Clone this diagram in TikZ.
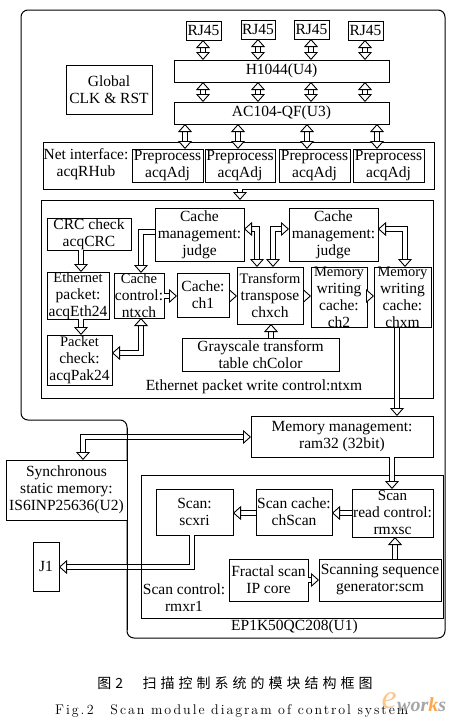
\documentclass[tikz,border=0pt]{standalone}
\usepackage{fontspec}
\newfontfamily\tms{Liberation Serif}
\newfontfamily\cjk{Noto Sans CJK SC}
\newfontfamily\capf[LetterSpace=14]{Latin Modern Roman}
\usetikzlibrary{arrows.meta,calc,positioning}
\newcommand{\bx}[6]{%
  \pgfmathsetmacro{\bw}{#4-#2}\pgfmathsetmacro{\bh}{#5-#3}%
  \node[bxs,minimum width=\bw pt,minimum height=\bh pt] (#1) at (#2,#3) {#6};}
\newcommand{\gp}{\hspace{4pt}}
\tikzset{
  bxs/.style={draw=black,line width=1pt,anchor=north west,inner sep=0pt,outer sep=0pt,align=center,
    font=\tms\fontsize{15.5}{17}\selectfont,fill=white},
  lbl/.style={inner sep=0pt,align=center,font=\tms\fontsize{15.5}{17}\selectfont},
  dbl/.style={draw=black,line width=.9pt,double=white,double distance=3.6pt,line join=miter},
  hd/.tip={Triangle[length=8pt,width=14pt,fill=white,line width=.9pt]},
  to1/.style={dbl,-hd},
  to2/.style={dbl,hd-hd},
}
\begin{document}
\begin{tikzpicture}[x=1pt,y=-1pt]
\useasboundingbox (0,0) rectangle (461,728);
% board outline
\draw[line width=1pt,rounded corners=7pt] (21,10) -- (445,10) -- (445,638) -- (127,638) -- (127,420) -- (21,420) -- cycle;
% containers
\bx{net}{43}{142}{434}{189}{}
\bx{wr}{41}{200}{433}{398}{}
\bx{u1}{141}{475}{443}{618}{}
% top
\bx{glob}{66}{65}{152}{114}{Global\\CLK \& RST}
\bx{rja}{186}{21}{221}{40}{RJ45}
\bx{rjb}{241}{20}{275}{39}{RJ45}
\bx{rjc}{294}{20}{329}{39}{RJ45}
\bx{rjd}{348}{21}{383}{40}{RJ45}
\bx{h}{174}{60}{389}{82}{H1044(U4)}
\bx{ac}{174}{102}{389}{124}{AC104-QF(U3)}
\node[lbl] (netl) at (86,164) {Net interface:\\acqRHub};
\bx{pa}{132}{149}{203}{182}{Preprocess\\acqAdj}
\bx{pb}{205}{149}{275}{182}{Preprocess\\acqAdj}
\bx{pc}{279}{149}{350}{182}{Preprocess\\acqAdj}
\bx{pd}{353}{149}{424}{182}{Preprocess\\acqAdj}
% write control
\bx{crc}{47}{218}{131}{250}{CRC check\\acqCRC}
\bx{jua}{155}{208}{244}{261}{Cache\\management:\\judge}
\bx{jub}{289}{208}{378}{261}{Cache\\management:\\judge}
\bx{eth}{47}{272}{109}{317}{\fontsize{14.5}{14.5}\selectfont Ethernet\\packet:\\acqEth24}
\bx{ctl}{114}{273}{164}{318}{\fontsize{14.5}{15}\selectfont Cache\\control:\\ntxch}
\bx{cha}{177}{273}{229}{317}{Cache:\\ch1}
\bx{tr}{237}{267}{303}{324}{\fontsize{14.5}{16.5}\selectfont Transform\\transpose\\chxch}
\bx{chb}{311}{267}{367}{324}{\fontsize{14.5}{13.5}\selectfont Memory\\writing\\cache:\\ch2}
\bx{chm}{374}{267}{431}{324}{\fontsize{14.5}{13.5}\selectfont Memory\\writing\\cache:\\chxm}
\bx{pak}{47}{335}{112}{385}{\fontsize{14.5}{17}\selectfont Packet\\check:\\acqPak24}
\bx{gray}{182}{338}{339}{371}{Grayscale transform\\table chColor}
\node[lbl] (wrl) at (254,387) {Ethernet packet write control:ntxm};
% memory
\bx{mem}{251}{416}{433}{457}{Memory management:\\ram32 (32bit)}
\bx{sram}{6}{460}{127}{520}{Synchronous\\static memory:\\IS6INP25636(U2)}
\bx{jone}{33}{542}{59}{591}{J1}
\bx{scan}{156}{489}{233}{535}{Scan:\\scxri}
\bx{sch}{256}{489}{332}{535}{Scan cache:\\chScan}
\bx{rctl}{352}{489}{433}{537}{\fontsize{15}{17}\selectfont Scan\\read control:\\rmxsc}
\bx{fr}{229}{559}{308}{601}{Fractal scan\\IP core}
\bx{seq}{319}{559}{441}{601}{Scanning sequence\\generator:scm}
\node[lbl] (scl) at (184,598) {Scan control:\\rmxr1};
\node[lbl,anchor=west] (u1l) at (231,627) {EP1K50QC208(U1)};
% column coordinates
\foreach \n/\v in {ca/203,cb/258,cc/311,cd/365,da/185,db/238,dc/307,dd/377,ea/240,fa/81,ga/141,ha/257,hb/273,hc/405,ia/271,ja/397,ka/392,la/395,ma/83,na/192}
  \coordinate (\n) at (\v,0);
\foreach \n/\v in {ya/296,yb/229,yc/353,yd/437,ye/513,yf/580,yg/567,yh/232}
  \coordinate (\n) at (0,\v);
% connectors
\foreach \c/\a in {ca/rja,cb/rjb,cc/rjc,cd/rjd}
  \draw[to2] (\c |- \a.south) -- (\c |- h.north);
\foreach \c in {ca,cb,cc,cd}
  \draw[to2] (\c |- h.south) -- (\c |- ac.north);
\foreach \c/\a in {da/pa,db/pb,dc/pc,dd/pd}
  \draw[to2] (\c |- ac.south) -- (\c |- \a.north);
\draw[to1] (ea |- net.south) -- (ea |- wr.north);
\draw[to1] (fa |- crc.south) -- (fa |- eth.north);
\draw[to1] (fa |- eth.south) -- (fa |- pak.north);
\draw[to1] (jua.west |- yh) -- (ga |- yh) -- (ga |- ctl.north);
\draw[to1] (ctl.east |- ya) -- (cha.west |- ya);
\draw[to1] (cha.east |- ya) -- (tr.west |- ya);
\draw[to1] (tr.east |- ya) -- (chb.west |- ya);
\draw[to1] (chb.east |- ya) -- (chm.west |- ya);
\draw[to2] (ga |- ctl.south) -- (ga |- yc) -- (pak.east |- yc);
\draw[to2] (jua.east |- yb) -- (ha |- yb) -- (ha |- tr.north);
\draw[to2] (hb |- tr.north) -- (hb |- yb) -- (jub.west |- yb);
\draw[to2] (jub.east |- yb) -- (hc |- yb) -- (hc |- chm.north);
\draw[to1] (ia |- gray.north) -- (ia |- tr.south);
\draw[to1] (ja |- chm.south) -- (ja |- mem.north);
\draw[to2] (mem.west |- yd) -- (ma |- yd) -- (ma |- sram.north);
\draw[to1] (ka |- mem.south) -- (ka |- rctl.north);
\draw[to1] (rctl.west |- ye) -- (sch.east |- ye);
\draw[to1] (sch.west |- ye) -- (scan.east |- ye);
\draw[to1] (fr.east |- yf) -- (seq.west |- yf);
\draw[to1] (la |- seq.north) -- (la |- rctl.south);
\draw[to1] (na |- scan.south) -- (na |- yg) -- (jone.east |- yg);
% board and U1 left edges run through the connectors that cross them
\draw[line width=1pt] (127,428) -- (127,630);
\draw[line width=1pt] (u1.north west) -- (u1.south west);
% caption
\node[inner sep=0pt,anchor=center,font=\cjk\fontsize{14}{16}\selectfont] (capa) at (235,683) {图\gp 2\hspace{1.4em}扫\gp 描\gp 控\gp 制\gp 系\gp 统\gp 的\gp 模\gp 块\gp 结\gp 构\gp 框\gp 图};
\node[inner sep=0pt,anchor=west,font=\capf\fontsize{14}{16}\selectfont] (capb) at (55,711) {Fig.\,2\hspace{1.2em}Scan module diagram of control system};
% watermark
\node[inner sep=0pt,anchor=west,font=\tms\bfseries\itshape\fontsize{20}{22}\selectfont] (wm) at (397,705) {\textcolor{gray!70}{wor}\textcolor{orange!70}{k}\textcolor{gray!70}{s}};
\node[inner sep=0pt,anchor=east,font=\tms\itshape\fontsize{34}{34}\selectfont,text=orange!45] (wme) at (397,701) {e};
\end{tikzpicture}
\end{document}
